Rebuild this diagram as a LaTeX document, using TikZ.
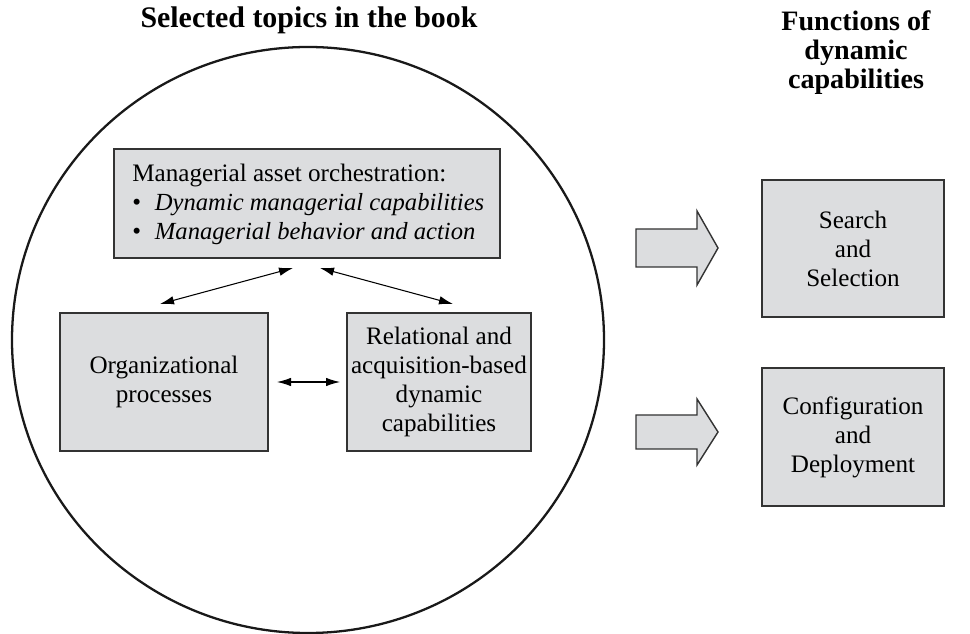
\documentclass[tikz,border=0pt]{standalone}
\usepackage{fontspec}
\setmainfont{Liberation Serif}
\usetikzlibrary{arrows.meta,shapes.geometric}
\definecolor{boxfill}{HTML}{DCDDDF}
\definecolor{edgegray}{HTML}{333333}
\tikzset{
  body/.style={font=\fontsize{14.3}{16.5}\selectfont},
  heading/.style={font=\fontsize{17}{16.5}\selectfont\bfseries, align=center},
  topicbox/.style={draw=edgegray, line width=0.8pt, fill=boxfill, body, align=center, inner sep=0pt},
  link/.style={line width=0.6pt, {Latex[length=2.8mm,width=1.7mm]}-{Latex[length=2.8mm,width=1.7mm]}},
  blockarrow/.style={draw=edgegray, line width=0.8pt, fill=boxfill},
  ring/.style={draw=black!90, line width=1.3pt}
}
\newcommand{\itemline}[1]{\textbullet\hspace{0.55em}{\fontsize{14}{16.5}\selectfont\itshape #1}}
\begin{document}
\begin{tikzpicture}[x=0.02cm, y=-0.02cm]
\useasboundingbox (0,0) rectangle (970,634);

% headings
\node[heading] (hleft) at (309,20) {Selected topics in the book};
\node[heading, font=\fontsize{16}{16.5}\selectfont\bfseries] (hright) at (856,53) {Functions of\\dynamic\\capabilities};

% the big circle holding the topics
\node[ring, ellipse, minimum width=592*0.02cm, minimum height=586*0.02cm, inner sep=0pt] (ring) at (308,340) {};

% topic boxes
\node[topicbox, minimum width=386*0.02cm, minimum height=109*0.02cm, align=left] (orch) at (307,203.5) {};
\node[body, align=left, anchor=west, inner sep=0pt] (orchtext) at (132,204)
  {Managerial asset orchestration:\\
   \itemline{Dynamic managerial capabilities}\\
   \itemline{Managerial behavior and action}};
\node[topicbox, minimum width=208*0.02cm, minimum height=138*0.02cm] (org) at (164,382)
  {Organizational\\processes};
\node[topicbox, minimum width=184*0.02cm, minimum height=138*0.02cm] (rel) at (439,382)
  {Relational and\\acquisition-based\\dynamic\\capabilities};

% function boxes
\node[topicbox, minimum width=182*0.02cm, minimum height=137*0.02cm] (search) at (853,248.5)
  {Search\\and\\Selection};
\node[topicbox, minimum width=182*0.02cm, minimum height=138*0.02cm] (config) at (853,437)
  {Configuration\\and\\Deployment};

% links between the topics
\coordinate (oL) at (293,268);
\coordinate (oR) at (320,268);
\coordinate (gT) at (160,304);
\coordinate (rT) at (453,304);
\coordinate (gR) at (277,382);
\coordinate (rL) at (340,382);
\draw[link] (oL) -- (gT);
\draw[link] (oR) -- (rT);
\draw[link] (gR) -- (rL);

% block arrows toward the functions
\draw[blockarrow] (636,229) -- (697,229) -- (697,211) -- (718,248) -- (697,285) -- (697,267) -- (636,267) -- cycle;
\draw[blockarrow] (636,415) -- (697,415) -- (697,399) -- (718,432) -- (697,465) -- (697,449) -- (636,449) -- cycle;
\end{tikzpicture}
\end{document}
